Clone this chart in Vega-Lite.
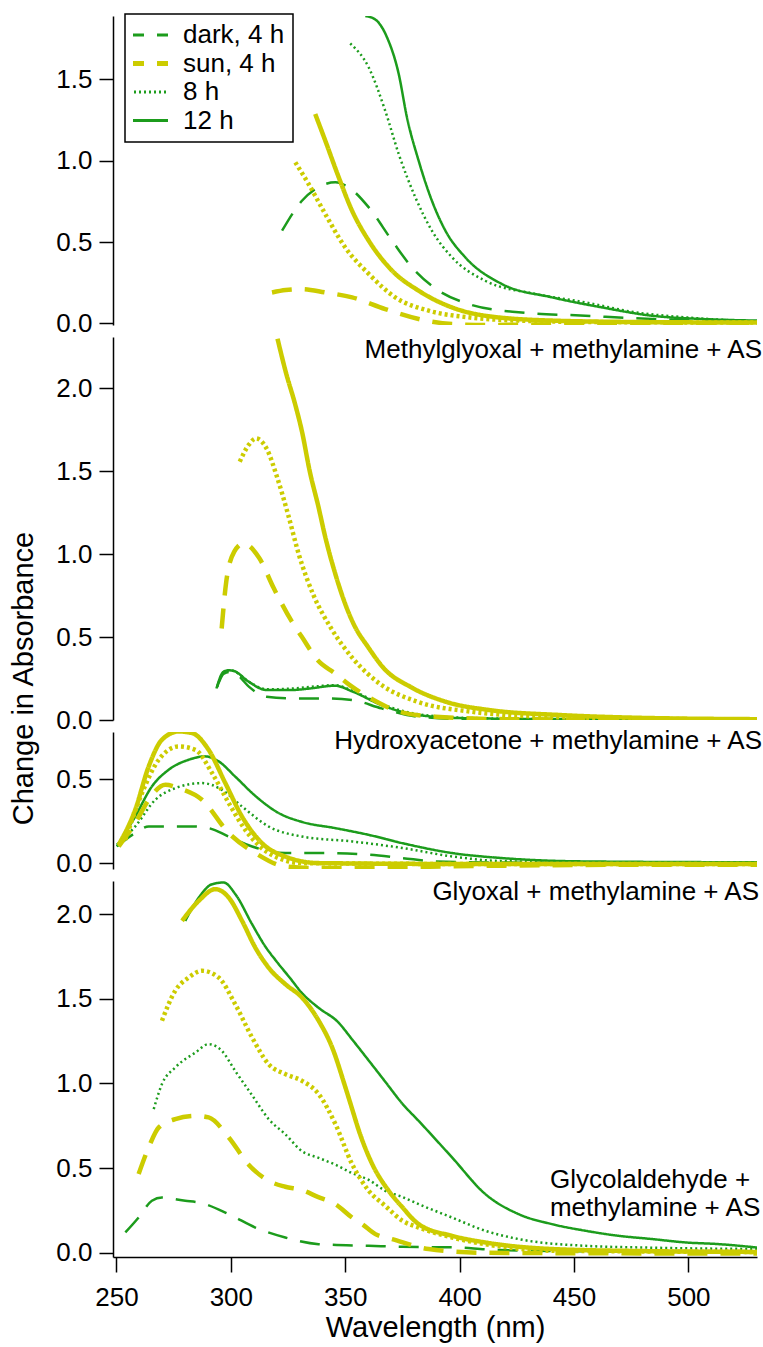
{
  "$schema": "https://vega.github.io/schema/vega-lite/v6.json",
  "padding": {"left": 9, "top": 13, "right": 5, "bottom": 5},
  "background": "white",
  "spacing": 12,
  "bounds": "flush",
  "config": {
    "view": {"stroke": null},
    "font": "Liberation Sans",
    "axis": {"grid": false, "domainColor": "black", "tickColor": "black", "labelColor": "black", "titleColor": "black", "domainWidth": 1.5, "tickWidth": 1.5, "labelFont": "Liberation Sans", "titleFont": "Liberation Sans", "labelFontSize": 26, "tickSize": 14, "labelPadding": 7, "labelFlush": false, "titleFontWeight": "normal"},
    "text": {"font": "Liberation Sans", "fontSize": 26, "color": "black"}
  },
  "resolve": {
    "scale": {"x": "independent", "y": "independent", "color": "independent", "strokeDash": "independent"},
    "legend": {"color": "independent", "strokeDash": "independent"}
  },
  "datasets": {
    "mg": [
      {"s": "dark, 4 h", "x": 322.4, "y": 0.57}, {"s": "dark, 4 h", "x": 331.1, "y": 0.754}, {"s": "dark, 4 h", "x": 336.9, "y": 0.826}, {"s": "dark, 4 h", "x": 345.7, "y": 0.867}, {"s": "dark, 4 h", "x": 351.5, "y": 0.836}, {"s": "dark, 4 h", "x": 360.3, "y": 0.713}, {"s": "dark, 4 h", "x": 370.5, "y": 0.508}, {"s": "dark, 4 h", "x": 379.2, "y": 0.344}, {"s": "dark, 4 h", "x": 390.9, "y": 0.201}, {"s": "dark, 4 h", "x": 404, "y": 0.119}, {"s": "dark, 4 h", "x": 425.8, "y": 0.068}, {"s": "dark, 4 h", "x": 455, "y": 0.047}, {"s": "dark, 4 h", "x": 484, "y": 0.027}, {"s": "dark, 4 h", "x": 530, "y": 0.012},
      {"s": "8 h", "x": 352.2, "y": 1.721}, {"s": "8 h", "x": 360.3, "y": 1.573}, {"s": "8 h", "x": 367.5, "y": 1.307}, {"s": "8 h", "x": 373.4, "y": 1.041}, {"s": "8 h", "x": 380.7, "y": 0.774}, {"s": "8 h", "x": 387.9, "y": 0.57}, {"s": "8 h", "x": 396.7, "y": 0.406}, {"s": "8 h", "x": 411.2, "y": 0.262}, {"s": "8 h", "x": 433.1, "y": 0.181}, {"s": "8 h", "x": 455, "y": 0.129}, {"s": "8 h", "x": 476.8, "y": 0.068}, {"s": "8 h", "x": 498.7, "y": 0.037}, {"s": "8 h", "x": 530, "y": 0.012},
      {"s": "12 h", "x": 358.8, "y": 1.89}, {"s": "12 h", "x": 363, "y": 1.87}, {"s": "12 h", "x": 368.3, "y": 1.758}, {"s": "12 h", "x": 373.4, "y": 1.533}, {"s": "12 h", "x": 377, "y": 1.266}, {"s": "12 h", "x": 382.1, "y": 1.0}, {"s": "12 h", "x": 387.9, "y": 0.754}, {"s": "12 h", "x": 393.8, "y": 0.57}, {"s": "12 h", "x": 402.5, "y": 0.406}, {"s": "12 h", "x": 418.5, "y": 0.242}, {"s": "12 h", "x": 440.4, "y": 0.16}, {"s": "12 h", "x": 462.3, "y": 0.098}, {"s": "12 h", "x": 484.1, "y": 0.047}, {"s": "12 h", "x": 506, "y": 0.027}, {"s": "12 h", "x": 530, "y": 0.017},
      {"s": "sun, 4 h", "x": 318, "y": 0.19}, {"s": "sun, 4 h", "x": 324, "y": 0.205}, {"s": "sun, 4 h", "x": 331.1, "y": 0.211}, {"s": "sun, 4 h", "x": 341.3, "y": 0.19}, {"s": "sun, 4 h", "x": 353, "y": 0.16}, {"s": "sun, 4 h", "x": 367.5, "y": 0.088}, {"s": "sun, 4 h", "x": 382.1, "y": 0.027}, {"s": "sun, 4 h", "x": 396.7, "y": -0.004}, {"s": "sun, 4 h", "x": 411.2, "y": -0.01}, {"s": "sun, 4 h", "x": 440, "y": -0.005}, {"s": "sun, 4 h", "x": 480, "y": 0}, {"s": "sun, 4 h", "x": 530, "y": 0},
      {"s": "sun, 8 h", "x": 328.2, "y": 0.99}, {"s": "sun, 8 h", "x": 334, "y": 0.857}, {"s": "sun, 8 h", "x": 341.3, "y": 0.672}, {"s": "sun, 8 h", "x": 350, "y": 0.467}, {"s": "sun, 8 h", "x": 360.3, "y": 0.304}, {"s": "sun, 8 h", "x": 371.9, "y": 0.16}, {"s": "sun, 8 h", "x": 386.5, "y": 0.078}, {"s": "sun, 8 h", "x": 404, "y": 0.037}, {"s": "sun, 8 h", "x": 425.8, "y": 0.017}, {"s": "sun, 8 h", "x": 460, "y": 0.008}, {"s": "sun, 8 h", "x": 530, "y": 0.005},
      {"s": "sun, 12 h", "x": 336.9, "y": 1.287}, {"s": "sun, 12 h", "x": 341.3, "y": 1.123}, {"s": "sun, 12 h", "x": 347.2, "y": 0.897}, {"s": "sun, 12 h", "x": 353, "y": 0.693}, {"s": "sun, 12 h", "x": 360.3, "y": 0.508}, {"s": "sun, 12 h", "x": 370.5, "y": 0.324}, {"s": "sun, 12 h", "x": 382.1, "y": 0.201}, {"s": "sun, 12 h", "x": 396.7, "y": 0.098}, {"s": "sun, 12 h", "x": 411.2, "y": 0.047}, {"s": "sun, 12 h", "x": 440.4, "y": 0.017}, {"s": "sun, 12 h", "x": 480, "y": 0.008}, {"s": "sun, 12 h", "x": 530, "y": 0.005}
    ],
    "ha": [
      {"s": "dark, 4 h", "x": 294, "y": 0.2}, {"s": "dark, 4 h", "x": 297, "y": 0.28}, {"s": "dark, 4 h", "x": 300, "y": 0.29}, {"s": "dark, 4 h", "x": 303, "y": 0.27}, {"s": "dark, 4 h", "x": 308, "y": 0.2}, {"s": "dark, 4 h", "x": 315.6, "y": 0.14}, {"s": "dark, 4 h", "x": 326.7, "y": 0.13}, {"s": "dark, 4 h", "x": 342.4, "y": 0.13}, {"s": "dark, 4 h", "x": 353.3, "y": 0.12}, {"s": "dark, 4 h", "x": 365.9, "y": 0.07}, {"s": "dark, 4 h", "x": 381.6, "y": 0.02}, {"s": "dark, 4 h", "x": 405, "y": 0.005}, {"s": "dark, 4 h", "x": 530, "y": 0.0},
      {"s": "8 h", "x": 294, "y": 0.2}, {"s": "8 h", "x": 297, "y": 0.29}, {"s": "8 h", "x": 300, "y": 0.3}, {"s": "8 h", "x": 302, "y": 0.29}, {"s": "8 h", "x": 308, "y": 0.23}, {"s": "8 h", "x": 316, "y": 0.185}, {"s": "8 h", "x": 327, "y": 0.19}, {"s": "8 h", "x": 335, "y": 0.2}, {"s": "8 h", "x": 345.5, "y": 0.21}, {"s": "8 h", "x": 353.3, "y": 0.175}, {"s": "8 h", "x": 366, "y": 0.095}, {"s": "8 h", "x": 382, "y": 0.035}, {"s": "8 h", "x": 405, "y": 0.012}, {"s": "8 h", "x": 450, "y": 0.005}, {"s": "8 h", "x": 530, "y": 0.003},
      {"s": "12 h", "x": 293.7, "y": 0.19}, {"s": "12 h", "x": 296.8, "y": 0.291}, {"s": "12 h", "x": 299, "y": 0.3}, {"s": "12 h", "x": 301.5, "y": 0.295}, {"s": "12 h", "x": 307.8, "y": 0.231}, {"s": "12 h", "x": 315.6, "y": 0.181}, {"s": "12 h", "x": 326.7, "y": 0.181}, {"s": "12 h", "x": 334.5, "y": 0.19}, {"s": "12 h", "x": 345.5, "y": 0.207}, {"s": "12 h", "x": 353.3, "y": 0.171}, {"s": "12 h", "x": 365.9, "y": 0.09}, {"s": "12 h", "x": 381.6, "y": 0.03}, {"s": "12 h", "x": 405, "y": 0.01}, {"s": "12 h", "x": 450, "y": 0.005}, {"s": "12 h", "x": 530, "y": 0.003},
      {"s": "sun, 4 h", "x": 296, "y": 0.552}, {"s": "sun, 4 h", "x": 298, "y": 0.834}, {"s": "sun, 4 h", "x": 301.5, "y": 1.015}, {"s": "sun, 4 h", "x": 305.5, "y": 1.065}, {"s": "sun, 4 h", "x": 312.5, "y": 0.975}, {"s": "sun, 4 h", "x": 318.8, "y": 0.794}, {"s": "sun, 4 h", "x": 326.7, "y": 0.593}, {"s": "sun, 4 h", "x": 331.1, "y": 0.5}, {"s": "sun, 4 h", "x": 338, "y": 0.36}, {"s": "sun, 4 h", "x": 345.7, "y": 0.28}, {"s": "sun, 4 h", "x": 352, "y": 0.21}, {"s": "sun, 4 h", "x": 361.2, "y": 0.13}, {"s": "sun, 4 h", "x": 373.7, "y": 0.05}, {"s": "sun, 4 h", "x": 389.4, "y": 0.02}, {"s": "sun, 4 h", "x": 420, "y": 0.005}, {"s": "sun, 4 h", "x": 530, "y": 0.0},
      {"s": "sun, 8 h", "x": 303.9, "y": 1.558}, {"s": "sun, 8 h", "x": 307.8, "y": 1.659}, {"s": "sun, 8 h", "x": 311, "y": 1.698}, {"s": "sun, 8 h", "x": 315.6, "y": 1.638}, {"s": "sun, 8 h", "x": 320.4, "y": 1.457}, {"s": "sun, 8 h", "x": 325.1, "y": 1.236}, {"s": "sun, 8 h", "x": 329.8, "y": 0.995}, {"s": "sun, 8 h", "x": 336.1, "y": 0.754}, {"s": "sun, 8 h", "x": 343.9, "y": 0.552}, {"s": "sun, 8 h", "x": 353.3, "y": 0.372}, {"s": "sun, 8 h", "x": 365.9, "y": 0.211}, {"s": "sun, 8 h", "x": 381.6, "y": 0.11}, {"s": "sun, 8 h", "x": 405, "y": 0.05}, {"s": "sun, 8 h", "x": 436.5, "y": 0.02}, {"s": "sun, 8 h", "x": 480, "y": 0.008}, {"s": "sun, 8 h", "x": 530, "y": 0.003},
      {"s": "sun, 12 h", "x": 320.4, "y": 2.3}, {"s": "sun, 12 h", "x": 324, "y": 2.1}, {"s": "sun, 12 h", "x": 328.2, "y": 1.9}, {"s": "sun, 12 h", "x": 331.1, "y": 1.74}, {"s": "sun, 12 h", "x": 334.5, "y": 1.5}, {"s": "sun, 12 h", "x": 338.4, "y": 1.28}, {"s": "sun, 12 h", "x": 341, "y": 1.12}, {"s": "sun, 12 h", "x": 345.7, "y": 0.88}, {"s": "sun, 12 h", "x": 350, "y": 0.7}, {"s": "sun, 12 h", "x": 354, "y": 0.57}, {"s": "sun, 12 h", "x": 360, "y": 0.44}, {"s": "sun, 12 h", "x": 367, "y": 0.31}, {"s": "sun, 12 h", "x": 378.5, "y": 0.2}, {"s": "sun, 12 h", "x": 394, "y": 0.11}, {"s": "sun, 12 h", "x": 413, "y": 0.06}, {"s": "sun, 12 h", "x": 444, "y": 0.03}, {"s": "sun, 12 h", "x": 476, "y": 0.014}, {"s": "sun, 12 h", "x": 530, "y": 0.005}
    ],
    "gx": [
      {"s": "dark, 4 h", "x": 250.2, "y": 0.1}, {"s": "dark, 4 h", "x": 258.2, "y": 0.179}, {"s": "dark, 4 h", "x": 264.1, "y": 0.218}, {"s": "dark, 4 h", "x": 272.8, "y": 0.218}, {"s": "dark, 4 h", "x": 283, "y": 0.218}, {"s": "dark, 4 h", "x": 290.3, "y": 0.208}, {"s": "dark, 4 h", "x": 299.1, "y": 0.158}, {"s": "dark, 4 h", "x": 309.3, "y": 0.099}, {"s": "dark, 4 h", "x": 323.8, "y": 0.06}, {"s": "dark, 4 h", "x": 338.4, "y": 0.06}, {"s": "dark, 4 h", "x": 360.3, "y": 0.05}, {"s": "dark, 4 h", "x": 374.9, "y": 0.03}, {"s": "dark, 4 h", "x": 389.5, "y": 0.01}, {"s": "dark, 4 h", "x": 420, "y": 0.003}, {"s": "dark, 4 h", "x": 530, "y": 0.002},
      {"s": "8 h", "x": 250.2, "y": 0.11}, {"s": "8 h", "x": 258.2, "y": 0.218}, {"s": "8 h", "x": 267, "y": 0.377}, {"s": "8 h", "x": 275.7, "y": 0.446}, {"s": "8 h", "x": 287.4, "y": 0.476}, {"s": "8 h", "x": 296.1, "y": 0.436}, {"s": "8 h", "x": 304.9, "y": 0.337}, {"s": "8 h", "x": 316.5, "y": 0.218}, {"s": "8 h", "x": 331.1, "y": 0.158}, {"s": "8 h", "x": 353, "y": 0.129}, {"s": "8 h", "x": 374.9, "y": 0.09}, {"s": "8 h", "x": 396.7, "y": 0.04}, {"s": "8 h", "x": 418.5, "y": 0.012}, {"s": "8 h", "x": 460, "y": 0.005}, {"s": "8 h", "x": 530, "y": 0.003},
      {"s": "12 h", "x": 250.2, "y": 0.099}, {"s": "12 h", "x": 258.2, "y": 0.277}, {"s": "12 h", "x": 265.5, "y": 0.456}, {"s": "12 h", "x": 272.8, "y": 0.555}, {"s": "12 h", "x": 281.6, "y": 0.615}, {"s": "12 h", "x": 288.8, "y": 0.635}, {"s": "12 h", "x": 294.7, "y": 0.605}, {"s": "12 h", "x": 301.9, "y": 0.515}, {"s": "12 h", "x": 310.7, "y": 0.4}, {"s": "12 h", "x": 320.9, "y": 0.298}, {"s": "12 h", "x": 331.1, "y": 0.245}, {"s": "12 h", "x": 345.7, "y": 0.208}, {"s": "12 h", "x": 360.3, "y": 0.168}, {"s": "12 h", "x": 374.9, "y": 0.119}, {"s": "12 h", "x": 396.7, "y": 0.06}, {"s": "12 h", "x": 418.5, "y": 0.03}, {"s": "12 h", "x": 455, "y": 0.01}, {"s": "12 h", "x": 530, "y": 0.005},
      {"s": "sun, 4 h", "x": 251, "y": 0.1}, {"s": "sun, 4 h", "x": 258.2, "y": 0.238}, {"s": "sun, 4 h", "x": 264.1, "y": 0.377}, {"s": "sun, 4 h", "x": 271.4, "y": 0.466}, {"s": "sun, 4 h", "x": 277.2, "y": 0.446}, {"s": "sun, 4 h", "x": 287.4, "y": 0.377}, {"s": "sun, 4 h", "x": 299.1, "y": 0.179}, {"s": "sun, 4 h", "x": 310.7, "y": 0.06}, {"s": "sun, 4 h", "x": 323.8, "y": -0.02}, {"s": "sun, 4 h", "x": 338.4, "y": -0.03}, {"s": "sun, 4 h", "x": 370, "y": -0.025}, {"s": "sun, 4 h", "x": 420, "y": -0.015}, {"s": "sun, 4 h", "x": 480, "y": -0.01}, {"s": "sun, 4 h", "x": 530, "y": -0.01},
      {"s": "sun, 8 h", "x": 253.9, "y": 0.139}, {"s": "sun, 8 h", "x": 261.2, "y": 0.417}, {"s": "sun, 8 h", "x": 268.5, "y": 0.615}, {"s": "sun, 8 h", "x": 277.2, "y": 0.694}, {"s": "sun, 8 h", "x": 284.5, "y": 0.674}, {"s": "sun, 8 h", "x": 291.8, "y": 0.536}, {"s": "sun, 8 h", "x": 299.1, "y": 0.357}, {"s": "sun, 8 h", "x": 306.3, "y": 0.198}, {"s": "sun, 8 h", "x": 316.5, "y": 0.06}, {"s": "sun, 8 h", "x": 331.1, "y": 0.0}, {"s": "sun, 8 h", "x": 400, "y": -0.005}, {"s": "sun, 8 h", "x": 530, "y": -0.005},
      {"s": "sun, 12 h", "x": 251, "y": 0.109}, {"s": "sun, 12 h", "x": 258.2, "y": 0.317}, {"s": "sun, 12 h", "x": 264.1, "y": 0.575}, {"s": "sun, 12 h", "x": 269.9, "y": 0.734}, {"s": "sun, 12 h", "x": 277.2, "y": 0.783}, {"s": "sun, 12 h", "x": 283, "y": 0.774}, {"s": "sun, 12 h", "x": 290.3, "y": 0.674}, {"s": "sun, 12 h", "x": 297.6, "y": 0.476}, {"s": "sun, 12 h", "x": 304.9, "y": 0.277}, {"s": "sun, 12 h", "x": 313.6, "y": 0.119}, {"s": "sun, 12 h", "x": 323.8, "y": 0.039}, {"s": "sun, 12 h", "x": 338.4, "y": 0.0}, {"s": "sun, 12 h", "x": 400, "y": -0.005}, {"s": "sun, 12 h", "x": 530, "y": -0.005}
    ],
    "ga": [
      {"s": "dark, 4 h", "x": 253.9, "y": 0.12}, {"s": "dark, 4 h", "x": 259.7, "y": 0.208}, {"s": "dark, 4 h", "x": 265.5, "y": 0.307}, {"s": "dark, 4 h", "x": 269.9, "y": 0.326}, {"s": "dark, 4 h", "x": 280.1, "y": 0.307}, {"s": "dark, 4 h", "x": 286, "y": 0.297}, {"s": "dark, 4 h", "x": 299.1, "y": 0.228}, {"s": "dark, 4 h", "x": 310.7, "y": 0.149}, {"s": "dark, 4 h", "x": 323.8, "y": 0.09}, {"s": "dark, 4 h", "x": 338.4, "y": 0.051}, {"s": "dark, 4 h", "x": 360.3, "y": 0.041}, {"s": "dark, 4 h", "x": 374.9, "y": 0.035}, {"s": "dark, 4 h", "x": 400, "y": 0.031}, {"s": "dark, 4 h", "x": 411, "y": 0.02}, {"s": "dark, 4 h", "x": 440, "y": 0.01}, {"s": "dark, 4 h", "x": 530, "y": 0.005},
      {"s": "8 h", "x": 266.3, "y": 0.848}, {"s": "8 h", "x": 269.9, "y": 0.996}, {"s": "8 h", "x": 275.7, "y": 1.094}, {"s": "8 h", "x": 284.5, "y": 1.182}, {"s": "8 h", "x": 290.3, "y": 1.232}, {"s": "8 h", "x": 296.1, "y": 1.192}, {"s": "8 h", "x": 301.9, "y": 1.074}, {"s": "8 h", "x": 309.3, "y": 0.93}, {"s": "8 h", "x": 316.5, "y": 0.79}, {"s": "8 h", "x": 323.8, "y": 0.7}, {"s": "8 h", "x": 331.1, "y": 0.6}, {"s": "8 h", "x": 338.4, "y": 0.56}, {"s": "8 h", "x": 345.7, "y": 0.52}, {"s": "8 h", "x": 353, "y": 0.47}, {"s": "8 h", "x": 360.3, "y": 0.43}, {"s": "8 h", "x": 367.5, "y": 0.366}, {"s": "8 h", "x": 374.9, "y": 0.33}, {"s": "8 h", "x": 382.1, "y": 0.287}, {"s": "8 h", "x": 396.7, "y": 0.208}, {"s": "8 h", "x": 411.2, "y": 0.13}, {"s": "8 h", "x": 425.8, "y": 0.081}, {"s": "8 h", "x": 455, "y": 0.041}, {"s": "8 h", "x": 484, "y": 0.03}, {"s": "8 h", "x": 530, "y": 0.022},
      {"s": "12 h", "x": 280.1, "y": 1.96}, {"s": "12 h", "x": 286, "y": 2.097}, {"s": "12 h", "x": 291.8, "y": 2.176}, {"s": "12 h", "x": 296.9, "y": 2.186}, {"s": "12 h", "x": 302, "y": 2.117}, {"s": "12 h", "x": 309.3, "y": 1.94}, {"s": "12 h", "x": 315, "y": 1.81}, {"s": "12 h", "x": 320, "y": 1.72}, {"s": "12 h", "x": 326, "y": 1.62}, {"s": "12 h", "x": 331, "y": 1.535}, {"s": "12 h", "x": 338, "y": 1.45}, {"s": "12 h", "x": 347, "y": 1.36}, {"s": "12 h", "x": 353, "y": 1.26}, {"s": "12 h", "x": 360, "y": 1.14}, {"s": "12 h", "x": 367.5, "y": 1.01}, {"s": "12 h", "x": 375, "y": 0.88}, {"s": "12 h", "x": 382, "y": 0.78}, {"s": "12 h", "x": 396.7, "y": 0.563}, {"s": "12 h", "x": 411.2, "y": 0.347}, {"s": "12 h", "x": 425.8, "y": 0.228}, {"s": "12 h", "x": 440.4, "y": 0.169}, {"s": "12 h", "x": 455, "y": 0.13}, {"s": "12 h", "x": 469.6, "y": 0.1}, {"s": "12 h", "x": 484.1, "y": 0.081}, {"s": "12 h", "x": 498.7, "y": 0.061}, {"s": "12 h", "x": 513.3, "y": 0.051}, {"s": "12 h", "x": 530, "y": 0.031},
      {"s": "sun, 4 h", "x": 259.7, "y": 0.465}, {"s": "sun, 4 h", "x": 264.1, "y": 0.622}, {"s": "sun, 4 h", "x": 268.5, "y": 0.74}, {"s": "sun, 4 h", "x": 275.7, "y": 0.789}, {"s": "sun, 4 h", "x": 284.5, "y": 0.809}, {"s": "sun, 4 h", "x": 290.3, "y": 0.799}, {"s": "sun, 4 h", "x": 299.1, "y": 0.681}, {"s": "sun, 4 h", "x": 307.8, "y": 0.52}, {"s": "sun, 4 h", "x": 316.5, "y": 0.425}, {"s": "sun, 4 h", "x": 323.8, "y": 0.39}, {"s": "sun, 4 h", "x": 331.1, "y": 0.37}, {"s": "sun, 4 h", "x": 338, "y": 0.33}, {"s": "sun, 4 h", "x": 345.7, "y": 0.287}, {"s": "sun, 4 h", "x": 353, "y": 0.208}, {"s": "sun, 4 h", "x": 357.4, "y": 0.169}, {"s": "sun, 4 h", "x": 363.2, "y": 0.11}, {"s": "sun, 4 h", "x": 370.5, "y": 0.081}, {"s": "sun, 4 h", "x": 386.5, "y": 0.022}, {"s": "sun, 4 h", "x": 410, "y": 0.0}, {"s": "sun, 4 h", "x": 530, "y": -0.005},
      {"s": "sun, 8 h", "x": 269.9, "y": 1.37}, {"s": "sun, 8 h", "x": 275.7, "y": 1.547}, {"s": "sun, 8 h", "x": 281.6, "y": 1.625}, {"s": "sun, 8 h", "x": 287.4, "y": 1.665}, {"s": "sun, 8 h", "x": 294.7, "y": 1.625}, {"s": "sun, 8 h", "x": 301.9, "y": 1.468}, {"s": "sun, 8 h", "x": 309.3, "y": 1.271}, {"s": "sun, 8 h", "x": 316.5, "y": 1.114}, {"s": "sun, 8 h", "x": 323.8, "y": 1.055}, {"s": "sun, 8 h", "x": 331.1, "y": 1.015}, {"s": "sun, 8 h", "x": 338.4, "y": 0.937}, {"s": "sun, 8 h", "x": 345.7, "y": 0.76}, {"s": "sun, 8 h", "x": 353, "y": 0.524}, {"s": "sun, 8 h", "x": 360.3, "y": 0.366}, {"s": "sun, 8 h", "x": 367.5, "y": 0.277}, {"s": "sun, 8 h", "x": 374.9, "y": 0.19}, {"s": "sun, 8 h", "x": 382.1, "y": 0.149}, {"s": "sun, 8 h", "x": 396.7, "y": 0.09}, {"s": "sun, 8 h", "x": 411.2, "y": 0.051}, {"s": "sun, 8 h", "x": 440, "y": 0.012}, {"s": "sun, 8 h", "x": 530, "y": 0.005},
      {"s": "sun, 12 h", "x": 278.7, "y": 1.96}, {"s": "sun, 12 h", "x": 286, "y": 2.078}, {"s": "sun, 12 h", "x": 293.2, "y": 2.147}, {"s": "sun, 12 h", "x": 299.1, "y": 2.097}, {"s": "sun, 12 h", "x": 304.9, "y": 1.96}, {"s": "sun, 12 h", "x": 310.7, "y": 1.802}, {"s": "sun, 12 h", "x": 316.5, "y": 1.684}, {"s": "sun, 12 h", "x": 323.8, "y": 1.586}, {"s": "sun, 12 h", "x": 331.1, "y": 1.507}, {"s": "sun, 12 h", "x": 338.4, "y": 1.37}, {"s": "sun, 12 h", "x": 344.3, "y": 1.212}, {"s": "sun, 12 h", "x": 350.1, "y": 0.976}, {"s": "sun, 12 h", "x": 353, "y": 0.85}, {"s": "sun, 12 h", "x": 356, "y": 0.72}, {"s": "sun, 12 h", "x": 361.8, "y": 0.524}, {"s": "sun, 12 h", "x": 369, "y": 0.366}, {"s": "sun, 12 h", "x": 374.9, "y": 0.27}, {"s": "sun, 12 h", "x": 382.1, "y": 0.169}, {"s": "sun, 12 h", "x": 396.7, "y": 0.1}, {"s": "sun, 12 h", "x": 411.2, "y": 0.061}, {"s": "sun, 12 h", "x": 440.4, "y": 0.022}, {"s": "sun, 12 h", "x": 480, "y": 0.01}, {"s": "sun, 12 h", "x": 530, "y": 0.005}
    ]
  },
  "vconcat": [
    {
      "width": 644, "height": 309,
      "layer": [
        {
          "data": {"name": "mg"},
          "mark": {"type": "line", "interpolate": "monotone", "clip": true},
          "encoding": {
            "x": {"field": "x", "type": "quantitative", "scale": {"domain": [248.5, 530], "nice": false, "zero": false}, "axis": null},
            "y": {"field": "y", "type": "quantitative", "scale": {"domain": [-0.01, 1.89], "nice": false, "zero": false}, "axis": {"title": null, "values": [0, 0.5, 1, 1.5], "format": ".1f"}},
            "color": {"field": "s", "type": "nominal", "scale": {"domain": ["dark, 4 h", "sun, 4 h", "8 h", "12 h", "sun, 8 h", "sun, 12 h"], "range": ["#1c9c1c", "#cccc00", "#1c9c1c", "#1c9c1c", "#cccc00", "#cccc00"]},
              "legend": {"title": null, "orient": "none", "legendX": 12, "legendY": -2, "values": ["dark, 4 h", "sun, 4 h", "8 h", "12 h"], "symbolType": "stroke", "symbolSize": 1936, "symbolStrokeWidth": 2.5, "labelFontSize": 26, "labelFont": "Liberation Sans", "labelColor": "black", "labelOffset": 24, "labelLimit": 300, "clipHeight": 26, "rowPadding": 2.5, "padding": 8, "strokeColor": "black", "fillColor": "white", "cornerRadius": 0,
                "encode": {"symbols": {"update": {"strokeWidth": {"signal": "datum.value === 'sun, 4 h' ? 5 : 3"}}}, "legend": {"update": {"strokeWidth": {"value": 1.5}}}}}},
            "strokeDash": {"field": "s", "type": "nominal", "scale": {"domain": ["dark, 4 h", "sun, 4 h", "8 h", "12 h", "sun, 8 h", "sun, 12 h"], "range": [[20, 13], [20, 13], [2, 3], [1, 0], [3, 3], [1, 0]]},
              "legend": {"title": null, "orient": "none", "legendX": 12, "legendY": -2, "values": ["dark, 4 h", "sun, 4 h", "8 h", "12 h"], "symbolType": "stroke", "symbolSize": 1936, "symbolStrokeWidth": 2.5, "labelFontSize": 26, "labelFont": "Liberation Sans", "labelColor": "black", "labelOffset": 24, "labelLimit": 300, "clipHeight": 26, "rowPadding": 2.5, "padding": 8, "strokeColor": "black", "fillColor": "white", "cornerRadius": 0,
                "encode": {"symbols": {"update": {"strokeWidth": {"signal": "datum.value === 'sun, 4 h' ? 5 : 3"}}}, "legend": {"update": {"strokeWidth": {"value": 1.5}}}}}},
            "strokeWidth": {"condition": {"test": "datum.s === 'sun, 4 h' || datum.s === 'sun, 8 h' || datum.s === 'sun, 12 h'", "value": 4.5}, "value": 2.5}
          }
        },
        {
          "data": {"values": [{"label": "Methylglyoxal + methylamine + AS"}]},
          "mark": {"type": "text", "align": "right", "baseline": "top", "dx": 5, "clip": false},
          "encoding": {"text": {"field": "label"}, "x": {"datum": 530, "type": "quantitative"}, "y": {"datum": -0.0836, "type": "quantitative"}}
        }
      ]
    },
    {
      "width": 644, "height": 383,
      "layer": [
        {
          "data": {"name": "ha"},
          "mark": {"type": "line", "interpolate": "monotone", "clip": true},
          "encoding": {
            "x": {"field": "x", "type": "quantitative", "scale": {"domain": [248.5, 530], "nice": false, "zero": false}, "axis": null},
            "y": {"field": "y", "type": "quantitative", "scale": {"domain": [0, 2.31], "nice": false, "zero": false}, "axis": {"title": "Change in Absorbance", "titleFontSize": 29, "titleY": 341, "titlePadding": 17, "values": [0, 0.5, 1, 1.5, 2], "format": ".1f"}},
            "color": {"field": "s", "type": "nominal", "scale": {"domain": ["dark, 4 h", "sun, 4 h", "8 h", "12 h", "sun, 8 h", "sun, 12 h"], "range": ["#1c9c1c", "#cccc00", "#1c9c1c", "#1c9c1c", "#cccc00", "#cccc00"]}, "legend": null},
            "strokeDash": {"field": "s", "type": "nominal", "scale": {"domain": ["dark, 4 h", "sun, 4 h", "8 h", "12 h", "sun, 8 h", "sun, 12 h"], "range": [[20, 13], [20, 13], [2, 3], [1, 0], [3, 3], [1, 0]]}, "legend": null},
            "strokeWidth": {"condition": {"test": "datum.s === 'sun, 4 h' || datum.s === 'sun, 8 h' || datum.s === 'sun, 12 h'", "value": 4.5}, "value": 2.5}
          }
        },
        {
          "data": {"values": [{"label": "Hydroxyacetone + methylamine + AS"}]},
          "mark": {"type": "text", "align": "right", "baseline": "top", "dx": 5, "clip": false},
          "encoding": {"text": {"field": "label"}, "x": {"datum": 530, "type": "quantitative"}, "y": {"datum": -0.048, "type": "quantitative"}}
        }
      ]
    },
    {
      "width": 644, "height": 137,
      "layer": [
        {
          "data": {"name": "gx"},
          "mark": {"type": "line", "interpolate": "monotone", "clip": true},
          "encoding": {
            "x": {"field": "x", "type": "quantitative", "scale": {"domain": [248.5, 530], "nice": false, "zero": false}, "axis": null},
            "y": {"field": "y", "type": "quantitative", "scale": {"domain": [-0.035, 0.78], "nice": false, "zero": false}, "axis": {"title": null, "values": [0, 0.5], "format": ".1f"}},
            "color": {"field": "s", "type": "nominal", "scale": {"domain": ["dark, 4 h", "sun, 4 h", "8 h", "12 h", "sun, 8 h", "sun, 12 h"], "range": ["#1c9c1c", "#cccc00", "#1c9c1c", "#1c9c1c", "#cccc00", "#cccc00"]}, "legend": null},
            "strokeDash": {"field": "s", "type": "nominal", "scale": {"domain": ["dark, 4 h", "sun, 4 h", "8 h", "12 h", "sun, 8 h", "sun, 12 h"], "range": [[20, 13], [20, 13], [2, 3], [1, 0], [3, 3], [1, 0]]}, "legend": null},
            "strokeWidth": {"condition": {"test": "datum.s === 'sun, 4 h' || datum.s === 'sun, 8 h' || datum.s === 'sun, 12 h'", "value": 4.5}, "value": 2.5}
          }
        },
        {
          "data": {"values": [{"label": "Glyoxal + methylamine + AS"}]},
          "mark": {"type": "text", "align": "right", "baseline": "top", "dx": 2, "clip": false},
          "encoding": {"text": {"field": "label"}, "x": {"datum": 530, "type": "quantitative"}, "y": {"datum": -0.0945, "type": "quantitative"}}
        }
      ]
    },
    {
      "width": 644, "height": 376,
      "layer": [
        {
          "data": {"name": "ga"},
          "mark": {"type": "line", "interpolate": "monotone", "clip": true},
          "encoding": {
            "x": {"field": "x", "type": "quantitative", "scale": {"domain": [248.5, 530], "nice": false, "zero": false}, "axis": {"title": "Wavelength (nm)", "titleFontSize": 29, "values": [250, 300, 350, 400, 450, 500], "format": "d", "tickSize": 15, "labelPadding": 12, "titlePadding": 3}},
            "y": {"field": "y", "type": "quantitative", "scale": {"domain": [-0.025, 2.195], "nice": false, "zero": false}, "axis": {"title": null, "values": [0, 0.5, 1, 1.5, 2], "format": ".1f"}},
            "color": {"field": "s", "type": "nominal", "scale": {"domain": ["dark, 4 h", "sun, 4 h", "8 h", "12 h", "sun, 8 h", "sun, 12 h"], "range": ["#1c9c1c", "#cccc00", "#1c9c1c", "#1c9c1c", "#cccc00", "#cccc00"]}, "legend": null},
            "strokeDash": {"field": "s", "type": "nominal", "scale": {"domain": ["dark, 4 h", "sun, 4 h", "8 h", "12 h", "sun, 8 h", "sun, 12 h"], "range": [[20, 13], [20, 13], [2, 3], [1, 0], [3, 3], [1, 0]]}, "legend": null},
            "strokeWidth": {"condition": {"test": "datum.s === 'sun, 4 h' || datum.s === 'sun, 8 h' || datum.s === 'sun, 12 h'", "value": 4.5}, "value": 2.5}
          }
        },
        {
          "data": {"values": [{"label": "Glycolaldehyde +\nmethylamine + AS"}]},
          "mark": {"type": "text", "align": "left", "baseline": "top", "lineBreak": "\n", "lineHeight": 28, "clip": false},
          "encoding": {"text": {"field": "label"}, "x": {"datum": 439.5, "type": "quantitative"}, "y": {"datum": 0.505, "type": "quantitative"}}
        }
      ]
    }
  ]
}
